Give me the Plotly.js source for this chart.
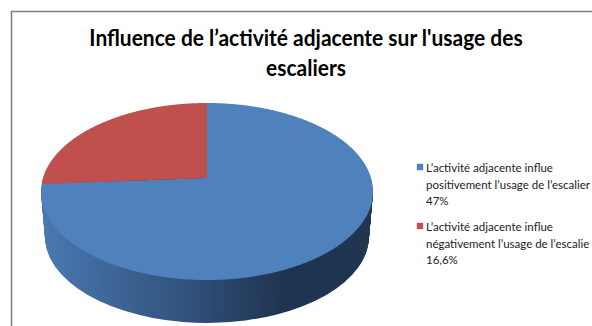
<!DOCTYPE html>
<html><head><meta charset="utf-8">
<script src="https://cdn.plot.ly/plotly-3.0.1.min.js"></script>
<style>html,body{margin:0;padding:0;background:#fff;overflow:hidden}#c{width:592px;height:326px;position:relative}
#frame{position:absolute;left:0;top:0;width:592px;height:326px;pointer-events:none;z-index:5}</style>
</head><body><div id="c"></div>
<svg id="frame" viewBox="0 0 592 326"><path d="M11.5,326V11.5H592" fill="none" stroke="#808080" stroke-width="1.6"/></svg>
<script>
const labels = [
  "L’activité adjacente influe<br>positivement l’usage de l’escalier<br>47%",
  "L’activité adjacente influe<br>négativement l’usage de l’escalie<br>16,6%"
];
const values = [47, 16.6];
const colors = ["#4f81bd", "#c0504d"];
const titleText = "<b>Influence de l’activité adjacente sur l'usage des<br>escaliers</b>";
const depth = 45;

const base = {type:"pie", labels:labels, values:values, sort:false, direction:"clockwise", rotation:0,
  textinfo:"none", hoverinfo:"skip", domain:{x:[0,0.6],y:[0,1]}};
const traces = [];
for (let i = depth; i >= 0; i--) {
  traces.push(Object.assign({}, base, {showlegend:i===0,
    marker:{colors:colors, line:{width:0}}}));
}
const layout = {
  width:592, height:326, margin:{l:0,r:0,t:0,b:0}, paper_bgcolor:"#fff",
  title:{text:titleText, x:306/592, xanchor:"center", y:0.86, yanchor:"middle",
    font:{family:"Lato, sans-serif", size:23, color:"#000"}},
  legend:{x:412/592, xanchor:"left", y:(326-156)/326, yanchor:"top", bgcolor:"rgba(0,0,0,0)",
    font:{family:"Lato, sans-serif", size:11.5, color:"#222"}, tracegroupgap:0, itemwidth:30, traceorder:"normal"}
};
Plotly.newPlot("c", traces, layout, {displayModeBar:false, staticPlot:true}).then(gd => {
  const svg = gd.querySelector(".main-svg");
  const ns = "http://www.w3.org/2000/svg";
  const defs = document.createElementNS(ns,"defs");
  defs.innerHTML = '<linearGradient id="wall" x1="0" x2="1" y1="0" y2="0">'+
    '<stop offset="0" stop-color="#4a78b0"/><stop offset="0.47" stop-color="#2f4f78"/>'+
    '<stop offset="0.74" stop-color="#1e3350"/><stop offset="1" stop-color="#203650"/></linearGradient>';
  svg.insertBefore(defs, svg.firstChild);
  const cd = gd.calcdata[0][0];
  const r = cd.r, cx = cd.cx, cy = cd.cy;
  const tx = 207, ty = 191.5, rx = 166, ry = 88.5;
  const groups = gd.querySelectorAll(".pielayer .trace");
  groups.forEach((g,idx) => {
    const d = depth - idx;
    if (d > 0) {
      const sx = rx*(1 - 0.024*d/depth)/r, sy = ry*(1 - 0.024*d/depth)/r;
      g.setAttribute("transform", `translate(${tx},${ty+d}) scale(${sx},${sy}) translate(${-cx},${-cy})`);
      g.querySelectorAll("path.surface").forEach(p => { p.style.fill = "url(#wall)"; p.style.stroke="none"; });
    } else {
      // perspective view of the top face: the pie centre sits above the middle of the ellipse
      const k = -0.1525, a = 59.3, b = 178, A = 164;
      g.querySelectorAll("path.surface").forEach(p => {
        const m = p.getCTM(), len = p.getTotalLength(), pts = [];
        const n = 900;
        for (let i = 0; i < n; i++) {
          const q = p.getPointAtLength(len*i/n);
          const u = (m.a*q.x + m.c*q.y + m.e - cx)/r, v = (m.b*q.x + m.d*q.y + m.f - cy)/r;
          const w = 1 + k*v;
          pts.push((tx + A*u/w).toFixed(2) + "," + ((a*v + b)/w).toFixed(2));
        }
        p.removeAttribute("transform");
        p.setAttribute("d", "M" + pts.join("L") + "Z");
      });
    }
  });
  // title: narrower, like the condensed face of the reference
  const tt = gd.querySelector(".gtitle");
  if (tt) tt.setAttribute("transform", "translate(306,0) scale(0.912,1) translate(-306,0)");
  // legend: small square keys and the reference's line spacing
  const items = gd.querySelectorAll(".legend .traces");
  const ys = [172, 231];
  const lg = gd.querySelector(".legend");
  lg.setAttribute("transform", "translate(0,0)");
  lg.querySelectorAll("[clip-path]").forEach(e => e.removeAttribute("clip-path"));
  const sb = lg.querySelector(".scrollbox"); if (sb) sb.setAttribute("transform","translate(0,0)");
  items.forEach((it,i) => {
    it.setAttribute("transform", `translate(0,${ys[i]})`);
    it.querySelectorAll(".legendpie").forEach(s => {
      s.setAttribute("transform", "translate(420,-5)");
      s.setAttribute("d", "M3.2,3.2H-3.2V-3.2H3.2Z");
    });
    const t = it.querySelector("text.legendtext");
    t.setAttribute("x", 426); t.setAttribute("y", 0); t.removeAttribute("transform");
    t.setAttribute("text-anchor","start");
    t.querySelectorAll("tspan.line").forEach((sp,j) => {
      sp.setAttribute("x", 426); sp.setAttribute("dy", j ? 16.5 : 0); sp.removeAttribute("y");
    });
  });
});
</script></body></html>
